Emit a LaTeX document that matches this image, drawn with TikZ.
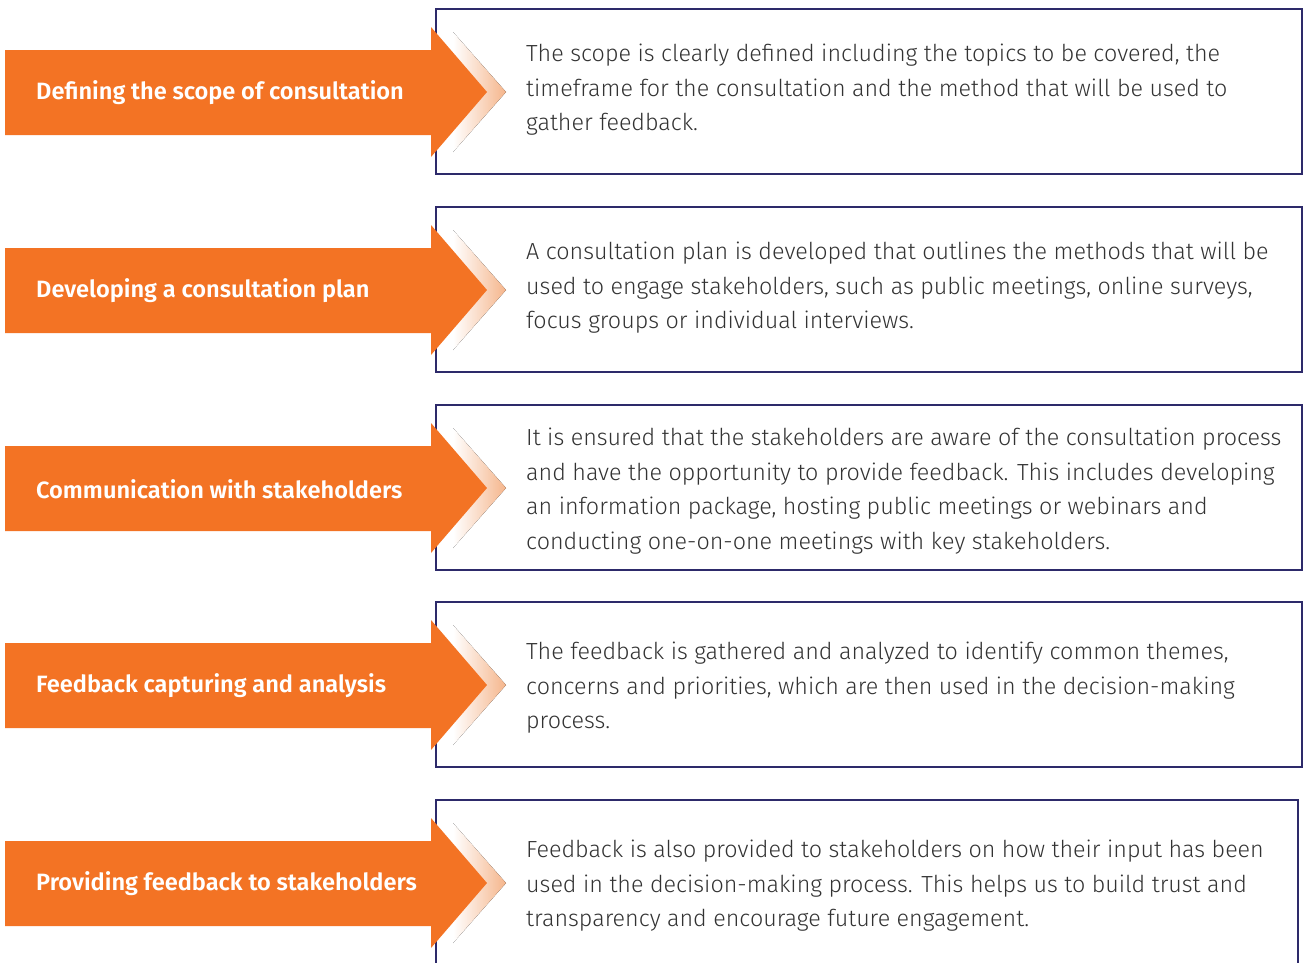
\documentclass[tikz,border=0pt]{standalone}
\usepackage{fontspec}
\setmainfont{Fira Sans}
\newfontfamily\bodyfont{Fira Sans Light}
\newfontfamily\labelfont{Fira Sans SemiBold}
\definecolor{orng}{HTML}{F37324}
\definecolor{peach}{HTML}{F5B58B}
\definecolor{navy}{HTML}{2D2A6A}
\definecolor{bodytxt}{HTML}{333333}
\tikzset{
  box/.style={draw=navy, line width=1.4pt, fill=white},
  arrowfill/.style={fill=orng, draw=none},
  fadefill/.style={left color=white, right color=peach, draw=none},
  lbl/.style={anchor=west, text=white, font=\labelfont\fontsize{23.6}{27}\selectfont, inner sep=0pt},
  bodytext/.style={anchor=west, text=bodytxt, align=left, inner sep=0pt, font=\bodyfont\fontsize{23.3}{34.5}\selectfont},
}
\begin{document}
\begin{tikzpicture}[x=1pt,y=-1pt]
\useasboundingbox (0,0) rectangle (1304,962);
\clip (0,0) rectangle (1304,962);
\foreach \i/\cy/\ty/\rx/\lab/\txt in {
 1/92/90/1302/{Defining the scope of consultation}/{The scope is clearly defined including the topics to be covered, the\\timeframe for the consultation and the method that will be used to\\gather feedback.},
 2/290/288/1302/{Developing a consultation plan}/{A consultation plan is developed that outlines the methods that will be\\used to engage stakeholders, such as public meetings, online surveys,\\focus groups or individual interviews.},
 3/488/491/1302/{Communication with stakeholders}/{It is ensured that the stakeholders are aware of the consultation process\\and have the opportunity to provide feedback. This includes developing\\an information package, hosting public meetings or webinars and\\conducting one-on-one meetings with key stakeholders.},
 4/685/688/1302/{Feedback capturing and analysis}/{The feedback is gathered and analyzed to identify common themes,\\concerns and priorities, which are then used in the decision-making\\process.},
 5/883/886/1298/{Providing feedback to stakeholders}/{Feedback is also provided to stakeholders on how their input has been\\used in the decision-making process. This helps us to build trust and\\transparency and encourage future engagement.}} {
  \draw[box] (436,\cy-83) rectangle (\rx,\cy+82);
  \coordinate (box\i) at (436,\cy);
  \fill[fadefill] (453,\cy-60) -- (506,\cy) -- (453,\cy+60) -- cycle;
  \fill[arrowfill] (5,\cy-42) -- (431,\cy-42) -- (431,\cy-65) -- (487,\cy) -- (431,\cy+65) -- (431,\cy+43) -- (5,\cy+43) -- cycle;
  \node[lbl] (lab\i) at (36,\cy+1) {\lab};
  \node[bodytext] (txt\i) at (526,\ty) {\txt};
}
\end{tikzpicture}
\end{document}
